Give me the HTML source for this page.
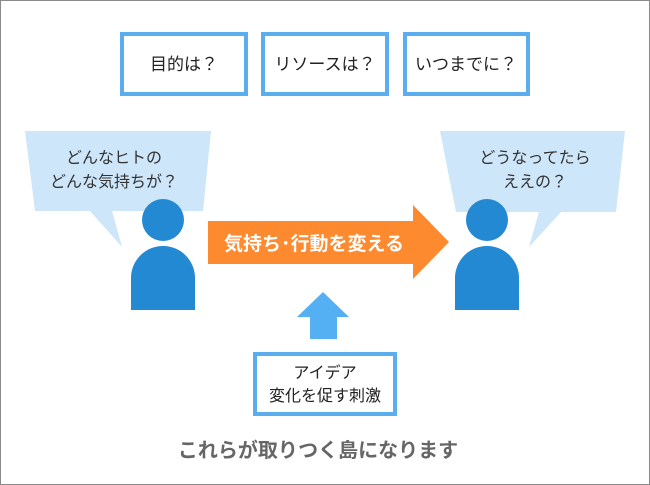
<!DOCTYPE html>
<html><head><meta charset="utf-8"><style>
html,body{margin:0;padding:0;background:#fff;}
svg{display:block;}
text{font-family:"Liberation Sans","Noto Sans CJK JP",sans-serif;}
</style></head><body>
<svg width="650" height="485" viewBox="0 0 650 485" xmlns="http://www.w3.org/2000/svg">
<rect x="0.5" y="0.5" width="649" height="484" fill="#fff" stroke="#8a8a8a" stroke-width="1"/>
<!-- top boxes -->
<g fill="#fff" stroke="#5aaeee" stroke-width="4">
<rect x="122" y="34" width="124" height="60"/>
<rect x="263" y="34" width="124" height="60"/>
<rect x="405" y="34" width="123" height="60"/>
</g>
<g font-size="17" fill="#222" text-anchor="middle">
<text x="184" y="70">目的は？</text>
<text x="325" y="70">リソースは？</text>
<text x="466" y="70">いつまでに？</text>
</g>
<!-- bubbles -->
<polygon points="25,131 211,131 203,211 112,211 122,247 90,211 35,211" fill="#cde6f9"/>
<polygon points="440,131 625,131 616,212 561,212 529,247 539,212 456,212" fill="#cde6f9"/>
<g font-size="16" fill="#333" text-anchor="middle">
<text x="114" y="163">どんなヒトの</text>
<text x="114" y="187">どんな気持ちが？</text>
<text x="535" y="163">どうなってたら</text>
<text x="535" y="187">ええの？</text>
</g>
<!-- persons -->
<g fill="#2389d3">
<circle cx="163" cy="220" r="21"/>
<path d="M131,310 V278 A32,32 0 0 1 195,278 V310 Z"/>
<circle cx="487" cy="220" r="21"/>
<path d="M455,310 V278 A32,32 0 0 1 519,278 V310 Z"/>
</g>
<!-- orange arrow -->
<polygon points="208,221 413,221 413,205 449,242 413,279 413,264 208,264" fill="#fd8a2f"/>
<text x="314" y="250" font-size="19" font-weight="bold" fill="#fff" text-anchor="middle">気持ち･行動を変える</text>
<!-- up arrow -->
<polygon points="323,292 349,317 337,317 337,339 310,339 310,317 297,317" fill="#55b0f3"/>
<!-- idea box -->
<rect x="255" y="354" width="140" height="60" fill="#fff" stroke="#5aaeee" stroke-width="4"/>
<g font-size="16" fill="#222" text-anchor="middle">
<text x="325" y="378">アイデア</text>
<text x="325" y="401">変化を促す刺激</text>
</g>
<text x="318" y="457" font-size="20" font-weight="bold" fill="#666" text-anchor="middle">これらが取りつく島になります</text>
</svg>
</body></html>
